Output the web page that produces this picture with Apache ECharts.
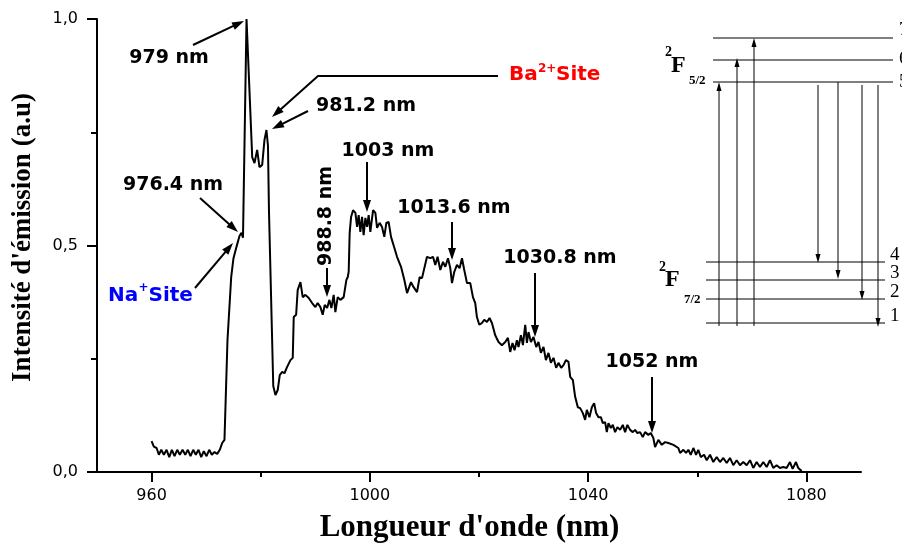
<!DOCTYPE html>
<html><head><meta charset="utf-8">
<script src="https://cdn.jsdelivr.net/npm/echarts@6/dist/echarts.min.js"></script>
<style>html,body{margin:0;padding:0;background:#fff}#c{width:902px;height:544px}</style>
</head><body><div id="c"></div>
<script>
// ---- data ----
const wavelengthNm = [
960.00,960.42,960.92,961.34,961.78,962.25,962.75,963.24,963.72,964.21,964.70,965.18,965.68,966.17,966.65,967.14,967.63,968.11,968.60,969.10,
969.57,970.07,970.56,971.04,971.53,972.03,972.50,972.94,973.24,973.36,973.91,974.59,975.01,975.56,976.11,976.48,976.75,977.40,978.44,978.86,
979.35,979.77,980.27,980.69,981.05,981.33,981.51,982.30,982.70,983.12,983.49,983.93,984.35,984.84,985.45,985.87,986.05,986.49,986.78,987.28,
987.70,988.19,988.80,989.42,990.02,990.44,990.94,991.36,991.73,992.17,992.59,992.95,993.37,993.68,994.11,994.60,995.20,995.52,995.70,995.94,
996.12,996.30,996.56,996.92,997.35,997.66,997.95,998.26,998.57,998.86,999.18,999.49,999.78,1000.09,1000.59,1001.01,1001.32,1001.79,1002.23,1002.65,
1003.02,1003.44,1003.88,1004.36,1004.98,1005.71,1006.32,1006.81,1007.54,1008.02,1008.64,1009.12,1009.56,1009.98,1010.47,1011.08,1011.57,1011.99,1012.41,1012.91,
1013.40,1013.82,1014.32,1014.74,1015.05,1015.47,1015.96,1016.44,1016.88,1017.30,1017.80,1018.40,1018.89,1019.31,1019.62,1020.05,1020.54,1020.96,1021.46,1021.93,
1022.37,1022.97,1023.58,1024.20,1024.81,1025.30,1025.72,1026.14,1026.51,1026.95,1027.24,1027.68,1028.05,1028.47,1028.78,1029.07,1029.51,1029.99,1030.48,1030.90,
1031.34,1031.82,1032.26,1032.73,1033.17,1033.65,1034.14,1034.56,1035.06,1035.48,1035.92,1036.40,1036.71,1037.20,1037.62,1038.11,1038.54,1039.03,1039.45,1039.76,
1040.24,1040.68,1041.10,1041.46,1041.89,1042.33,1042.69,1043.11,1043.42,1043.72,1044.16,1044.52,1044.94,1045.36,1045.86,1046.35,1046.77,1047.19,1047.69,1048.18,
1048.60,1049.02,1049.52,1050.01,1050.43,1051.04,1051.48,1051.95,1052.26,1052.87,1053.49,1054.10,1054.70,1055.62,1056.53,1056.84,1057.45,1057.94,1058.36,1058.80,
1059.28,1059.77,1060.19,1060.63,1061.24,1061.73,1062.33,1062.94,1063.56,1064.16,1064.77,1065.39,1065.99,1066.60,1067.22,1067.83,1068.43,1069.05,1069.66,1070.26,
1070.88,1071.49,1072.09,1072.71,1073.32,1073.92,1074.54,1075.15,1075.75,1076.37,1076.98,1077.47,1078.08,1078.50,1079.12
];
const intensity = [
0.068,0.056,0.053,0.038,0.049,0.038,0.049,0.033,0.049,0.035,0.049,0.038,0.049,0.038,0.049,0.035,0.049,0.038,0.049,0.033,
0.046,0.035,0.049,0.038,0.044,0.040,0.049,0.064,0.064,0.071,0.291,0.430,0.472,0.497,0.521,0.528,0.517,1.000,0.695,0.682,
0.711,0.673,0.678,0.733,0.755,0.720,0.578,0.190,0.170,0.181,0.214,0.221,0.218,0.232,0.247,0.252,0.342,0.347,0.402,0.419,
0.386,0.391,0.384,0.373,0.364,0.373,0.364,0.347,0.369,0.362,0.380,0.362,0.391,0.353,0.386,0.380,0.386,0.384,0.424,0.430,
0.442,0.528,0.563,0.578,0.572,0.541,0.567,0.530,0.563,0.523,0.561,0.541,0.567,0.530,0.578,0.572,0.539,0.550,0.541,0.519,
0.550,0.552,0.519,0.500,0.475,0.453,0.424,0.395,0.419,0.408,0.397,0.430,0.428,0.450,0.475,0.472,0.475,0.457,0.475,0.446,
0.464,0.453,0.472,0.450,0.417,0.442,0.457,0.450,0.472,0.446,0.417,0.417,0.386,0.373,0.342,0.325,0.329,0.336,0.331,0.340,
0.329,0.302,0.287,0.280,0.287,0.296,0.265,0.285,0.269,0.291,0.276,0.302,0.280,0.325,0.285,0.309,0.287,0.298,0.276,0.287,
0.263,0.276,0.247,0.263,0.241,0.252,0.230,0.241,0.230,0.236,0.247,0.243,0.210,0.203,0.166,0.143,0.141,0.130,0.115,0.137,
0.121,0.143,0.152,0.130,0.121,0.121,0.108,0.110,0.088,0.108,0.097,0.104,0.088,0.099,0.093,0.104,0.088,0.104,0.093,0.088,
0.093,0.086,0.088,0.077,0.088,0.082,0.086,0.075,0.055,0.071,0.060,0.066,0.064,0.060,0.053,0.042,0.049,0.042,0.049,0.038,
0.053,0.038,0.049,0.033,0.038,0.026,0.038,0.022,0.033,0.022,0.031,0.020,0.031,0.015,0.026,0.015,0.022,0.015,0.026,0.009,
0.022,0.011,0.022,0.011,0.026,0.009,0.015,0.009,0.011,0.009,0.022,0.007,0.022,0.009,0.002
];
const xTickValues = [960, 1000, 1040, 1080];
const xMinorTickValues = [980, 1020, 1060];
const yTickValues = [0, 0.5, 1];
const yTickLabels = ['0,0', '0,5', '1,0'];
const xTitle = "Longueur d'onde (nm)";
const yTitle = "Intensité d'émission (a.u)";
const levelNames = ['7', '6', '5', '4', '3', '2', '1'];

// ---- drawing ----
const seriesData = wavelengthNm.map((w, i) => [w, intensity[i]]);

function arrowEls(pts, lw, hl, hw) {
  const n = pts.length;
  const [x1, y1] = pts[n - 2], [x2, y2] = pts[n - 1];
  const dx = x2 - x1, dy = y2 - y1, len = Math.hypot(dx, dy), ux = dx / len, uy = dy / len;
  const bx = x2 - ux * hl, by = y2 - uy * hl;
  const linePts = pts.slice(0, n - 1).concat([[bx + ux, by + uy]]);
  return [
    { type: 'polyline', silent: true, shape: { points: linePts }, style: { stroke: '#000', lineWidth: lw, fill: null } },
    { type: 'polygon', silent: true, shape: { points: [[x2, y2], [bx - uy * hw / 2, by + ux * hw / 2], [bx + uy * hw / 2, by - ux * hw / 2]] }, style: { fill: '#000' } }
  ];
}
const SANS = 'DejaVu Sans', SERIF = 'Liberation Serif';
function txt(text, x, y, fam, size, weight, fill, align, rotation) {
  return { type: 'text', silent: true, x: x, y: y, rotation: rotation || 0, z: 10,
    style: { text: text, fontFamily: fam, fontSize: size, fontWeight: weight, fill: fill || '#000',
      align: align || 'center', verticalAlign: 'middle' } };
}
function seg(x1, y1, x2, y2) {
  return { type: 'line', silent: true, shape: { x1: x1, y1: y1, x2: x2, y2: y2 }, style: { stroke: '#000', lineWidth: 1 } };
}

let g = [];
const lab = (t, x, y, rot) => txt(t, x, y, SANS, 19, 'bold', '#000', 'center', rot);
// peak labels
g.push(lab('979 nm', 169, 58));
g = g.concat(arrowEls([[193, 45], [244, 21]], 2, 12, 8));
g.push(lab('976.4 nm', 173, 185));
g = g.concat(arrowEls([[200, 198], [238, 232]], 2, 12, 8));
g.push(txt('Na', 108, 296, SANS, 20, 'bold', '#0000ff', 'left'));
g.push(txt('+', 138.5, 288, SANS, 12, 'bold', '#0000ff', 'left'));
g.push(txt('Site', 148.5, 296, SANS, 20, 'bold', '#0000ff', 'left'));
g = g.concat(arrowEls([[195, 288], [233, 243]], 2, 12, 8));
g.push(txt('Ba', 509, 75, SANS, 20, 'bold', '#ff0000', 'left'));
g.push(txt('2+', 538, 69, SANS, 12, 'bold', '#ff0000', 'left'));
g.push(txt('Site', 556, 75, SANS, 20, 'bold', '#ff0000', 'left'));
g = g.concat(arrowEls([[498, 76], [318, 76], [272, 117]], 2, 12, 8));
g.push(lab('981.2 nm', 366, 106));
g = g.concat(arrowEls([[308, 111], [272, 129]], 2, 12, 8));
g.push(lab('1003 nm', 388, 151));
g = g.concat(arrowEls([[367, 162], [367, 212]], 2, 12, 8));
g.push(lab('988.8 nm', 326, 216, Math.PI / 2));
g = g.concat(arrowEls([[327, 268], [327, 297]], 2, 12, 8));
g.push(lab('1013.6 nm', 454, 208));
g = g.concat(arrowEls([[452, 222], [452, 260]], 2, 12, 8));
g.push(lab('1030.8 nm', 560, 258));
g = g.concat(arrowEls([[535, 273], [535, 337]], 2, 12, 8));
g.push(lab('1052 nm', 652, 362));
g = g.concat(arrowEls([[652, 377], [652, 433]], 2, 12, 8));

// inset: Yb3+ energy levels
const upperY = [38, 60, 82], upperLabelY = [30, 59, 82];
const lowerY = [262, 280, 299, 323];
upperY.forEach((y, i) => { g.push(seg(713, y, 893, y)); g.push(txt(levelNames[i], 899, upperLabelY[i], SERIF, 19, 'normal', '#000', 'left')); });
lowerY.forEach((y, i) => { g.push(seg(706, y, 885, y)); g.push(txt(levelNames[3 + i], 890, y - 7, SERIF, 19, 'normal', '#000', 'left')); });
g = g.concat(arrowEls([[719, 326], [719, 82]], 1, 9, 5));
g = g.concat(arrowEls([[737, 326], [737, 58]], 1, 9, 5));
g = g.concat(arrowEls([[754, 326], [754, 38]], 1, 9, 5));
g = g.concat(arrowEls([[818, 85], [818, 263]], 1, 9, 5));
g = g.concat(arrowEls([[838, 82], [838, 279]], 1, 9, 5));
g = g.concat(arrowEls([[862, 85], [862, 300]], 1, 9, 5));
g = g.concat(arrowEls([[878, 85], [878, 327]], 1, 9, 5));
g.push(txt('2', 665, 52, SERIF, 14, 'bold', '#000', 'left'));
g.push(txt('F', 671, 66, SERIF, 24, 'bold', '#000', 'left'));
g.push(txt('5/2', 689, 81, SERIF, 13, 'bold', '#000', 'left'));
g.push(txt('2', 659, 267, SERIF, 14, 'bold', '#000', 'left'));
g.push(txt('F', 665, 280, SERIF, 24, 'bold', '#000', 'left'));
g.push(txt('7/2', 684, 300, SERIF, 13, 'bold', '#000', 'left'));

const chart = echarts.init(document.getElementById('c'), null, { renderer: 'canvas' });
chart.setOption({
  animation: false,
  backgroundColor: '#fff',
  grid: { left: 97, right: 41, top: 19, bottom: 72, outerBoundsMode: 'none' },
  xAxis: [{
    type: 'value', min: 950, max: 1090, position: 'bottom',
    name: xTitle, nameLocation: 'middle', nameGap: 40,
    nameTextStyle: { fontFamily: SERIF, fontWeight: 'bold', fontSize: 31, color: '#000', padding: [0, 19, 0, 0] },
    axisLine: { lineStyle: { color: '#000', width: 2 } },
    axisTick: { customValues: xTickValues, length: 10, lineStyle: { width: 2, color: '#000' } },
    axisLabel: { customValues: xTickValues, margin: 16, fontFamily: SANS, fontSize: 16, color: '#000', formatter: v => String(v) },
    splitLine: { show: false }
  }, {
    type: 'value', min: 950, max: 1090, position: 'bottom',
    axisLine: { show: false },
    axisTick: { customValues: xMinorTickValues, length: 5, lineStyle: { width: 2, color: '#000' } },
    axisLabel: { show: false },
    splitLine: { show: false }
  }],
  yAxis: {
    type: 'value', min: 0, max: 1, interval: 0.5,
    name: yTitle, nameLocation: 'middle', nameGap: 60,
    nameTextStyle: { fontFamily: SERIF, fontWeight: 'bold', fontSize: 27, color: '#000', padding: [0, 0, 0, 16] },
    axisLine: { show: true, lineStyle: { color: '#000', width: 2 } },
    axisTick: { show: true, length: 10, lineStyle: { width: 2, color: '#000' } },
    minorTick: { show: true, splitNumber: 2, length: 6, lineStyle: { width: 2, color: '#000' } },
    axisLabel: { margin: 19, fontFamily: SANS, fontSize: 16, color: '#000',
      formatter: v => { const i = yTickValues.indexOf(v); return i >= 0 ? yTickLabels[i] : ''; } },
    splitLine: { show: false }, minorSplitLine: { show: false }
  },
  series: [{
    type: 'line', xAxisIndex: 0, data: seriesData, showSymbol: false, symbol: 'none',
    lineStyle: { color: '#000', width: 2 }, z: 3
  }],
  graphic: { elements: g }
});
</script></body></html>
